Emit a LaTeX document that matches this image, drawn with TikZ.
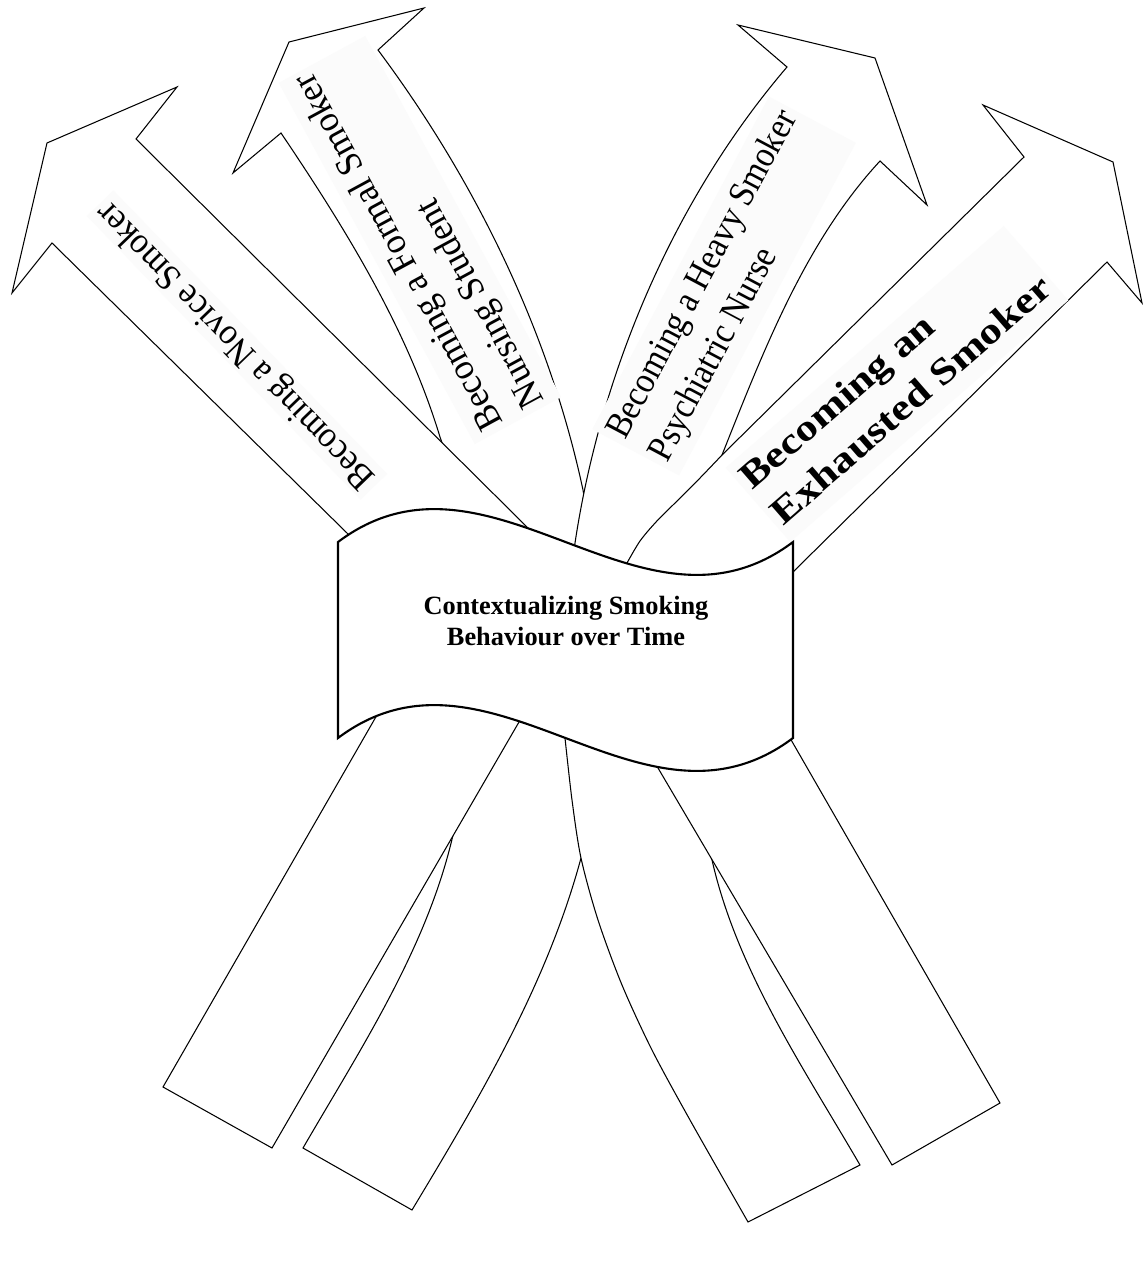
\documentclass[tikz,border=0pt]{standalone}
\usepackage{fontspec}
\setmainfont{Liberation Serif}
\usepackage{graphicx}
\begin{document}
\begin{tikzpicture}[x=0.02cm,y=-0.02cm,
  arrowshape/.style={draw=black,fill=white,line width=0.6pt,line join=miter},
  banner/.style={draw=black,fill=white,line width=1.2pt},
  lbl/.style={fill=black!1.5,inner xsep=3pt,inner ysep=1pt,font=\fontsize{21}{27}\selectfont}]
\useasboundingbox (0,0) rectangle (1147,1284);

% ---- arrow B (Formal Smoker): bottom band and top piece
\draw[arrowshape] (303,1148) -- (412,1210) .. controls (480,1097) and (547,984) .. (581,858)
  -- (588,790) -- (592,715) -- (490,690) -- (480,740) -- (470,790) -- (453,835)
  .. controls (427,948) and (361,1048) .. (303,1148) -- cycle;
\draw[arrowshape] (470,570) -- (455,480) -- (440,437) .. controls (407,328) and (345,228) .. (281,133)
  -- (233,173) -- (289,42) -- (424,8) -- (378,50)
  .. controls (475,180) and (549,331) .. (583,490) -- (590,530) -- (600,590) -- cycle;

% ---- arrow A (Novice Smoker)
\draw[arrowshape] (163,1087) -- (272,1148) -- (519,722) -- (530,703) -- (387,698) -- (377,715) -- cycle;
\draw[arrowshape] (365,551) -- (347,533) -- (52,243) -- (12,293) -- (47,143) -- (177,87) -- (136,139)
  -- (527,527) -- (545,545) -- cycle;

% ---- arrow C (Heavy Smoker)
\draw[arrowshape] (562,705) -- plot[smooth] coordinates {(565,738) (572,800) (581,858) (598,920) (622,985) (652,1050) (690,1120) (748,1222)}
  -- (860,1165) .. controls (803,1067) and (737,970) .. (712,860) -- (700,810) -- (690,760) -- (680,715) -- cycle;
\draw[arrowshape] (572,580) -- (575,543) .. controls (601,371) and (674,199) .. (787,67)
  -- (738,25) -- (875,58) -- (927,205) -- (880,161)
  .. controls (805,242) and (763,352) .. (722,455) -- (705,500) -- (700,560) -- (690,600) -- cycle;

% ---- arrow D (Exhausted Smoker)
\draw[arrowshape] (892,1165) -- (1000,1103) -- (790,738) -- (775,712) -- (643,742) -- (658,768) -- cycle;
\draw[arrowshape] (615,585) -- plot[smooth] coordinates {(627,563) (640,541) (656,522) (675,503) (700,478) (722,455)}
  -- (1024,157) -- (983,105) -- (1113,162) -- (1142,303) -- (1107,262) -- (795,570) -- (780,585) -- cycle;

% ---- labels
\node[lbl,rotate=134] (novice) at (237,345) {\scalebox{0.92}[1]{Becoming a Novice Smoker}};
\node[lbl,rotate=118.5] (formal) at (420,240) {\scalebox{0.96}[1]{\begin{tabular}{@{}l@{}}Becoming a Formal Smoker\\ Nursing Student\end{tabular}}};
\node[lbl,rotate=62] (heavy) at (724,286) {\scalebox{0.9}[1]{\begin{tabular}{@{}l@{}}Becoming a Heavy Smoker\\ Psychiatric Nurse\end{tabular}}};
\node[lbl,rotate=41] (exhausted) at (897,384) {\scalebox{1.2}[1]{\bfseries\begin{tabular}{@{}l@{}}Becoming an\\ Exhausted Smoker\end{tabular}}};

% ---- central banner
\draw[banner] (338,542) .. controls (489.7,428) and (641.3,656) .. (793,542) -- (793,738)
  .. controls (641.3,852) and (489.7,624) .. (338,738) -- cycle;
\node[font=\fontsize{15}{17.6}\selectfont\bfseries, align=center] (title) at (566,621)
  {Contextualizing Smoking\\Behaviour over Time};
\end{tikzpicture}
\end{document}
